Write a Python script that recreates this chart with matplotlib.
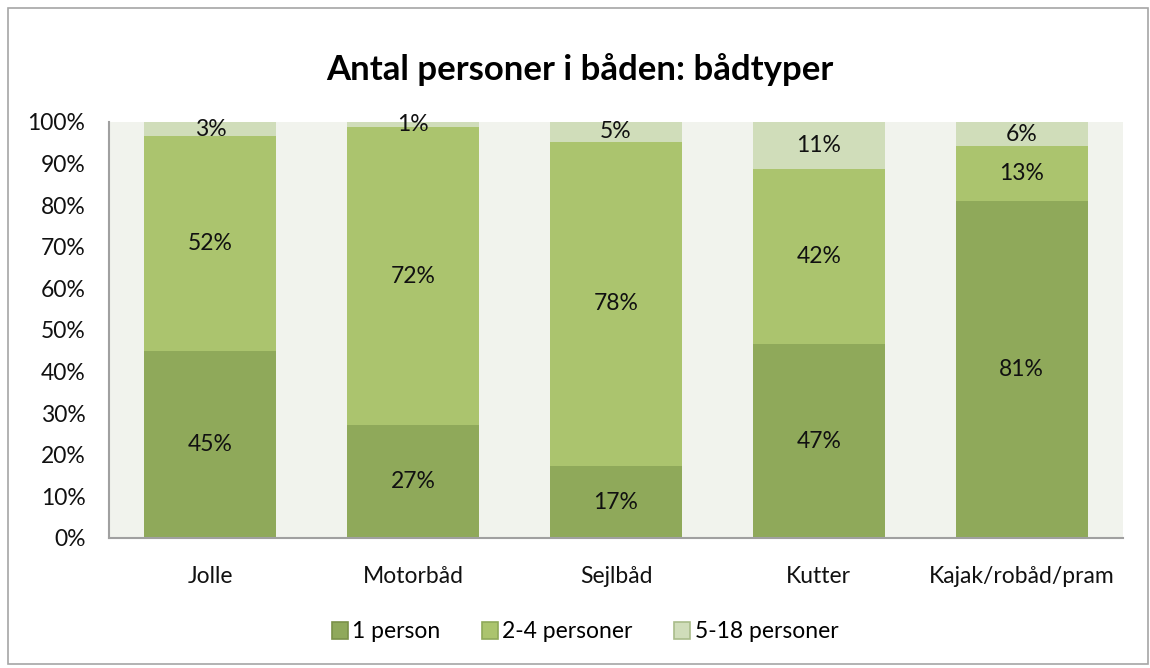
import matplotlib
matplotlib.use("Agg")
import matplotlib.pyplot as plt
from matplotlib.patches import Rectangle
import numpy as np

categories = ["Jolle", "Motorbåd", "Sejlbåd", "Kutter", "Kajak/robåd/pram"]
series_names = ["1 person", "2-4 personer", "5-18 personer"]
one_person = [45.0, 27.2, 17.3, 46.6, 81.0]
two_four = [51.6, 71.5, 77.9, 42.1, 13.2]
five_18 = [3.4, 1.3, 4.8, 11.3, 5.8]

colors = ["#8FA95A", "#ABC46E", "#D0DDBA"]
edges = ["#7A9148", "#8FA95A", "#A9BC8A"]

plt.rcParams["font.family"] = ["Lato", "DejaVu Sans"]

fig = plt.figure(figsize=(11.5, 6.68), dpi=100)
ax = fig.add_axes([109 / 1150, 1 - 538 / 668, (1123 - 109) / 1150, (538 - 122) / 668])
ax.set_facecolor("#F1F3ED")

x = np.arange(len(categories))
bottom = np.zeros(len(categories))
for vals, col, name in zip([one_person, two_four, five_18], colors, series_names):
    vals = np.array(vals)
    ax.bar(x, vals, 0.65, bottom=bottom, color=col, label=name, zorder=2)
    for xi, b, v in zip(x, bottom, vals):
        ax.text(xi, b + v / 2, "%d%%" % round(v), ha="center", va="center",
                fontsize=16.5, color="#111111", zorder=3)
    bottom += vals

ax.set_xlim(-0.5, len(categories) - 0.5)
ax.set_ylim(0, 100)
ax.set_yticks(range(0, 101, 10))
ax.set_yticklabels(["%d%%" % v for v in range(0, 101, 10)], fontsize=16.5)
ax.set_xticks(x)
ax.set_xticklabels(categories, fontsize=16.5)
ax.tick_params(axis="y", length=0, pad=17, colors="#111111")
ax.tick_params(axis="x", length=0, pad=20, colors="#111111")
for s in ["top", "right"]:
    ax.spines[s].set_visible(False)
for s in ["left", "bottom"]:
    ax.spines[s].set_color("#A0A0A0")
    ax.spines[s].set_linewidth(1.5)

fig.text(580 / 1150, 1 - 70 / 668, "Antal personer i båden: bådtyper",
         ha="center", va="center", fontsize=25, fontweight="bold")

handles = [Rectangle((0, 0), 1, 1, facecolor=c, edgecolor=e, linewidth=1.2)
           for c, e in zip(colors, edges)]
fig.legend(handles, series_names, loc="center", bbox_to_anchor=(585 / 1150, 1 - 632 / 668),
           ncol=3, frameon=False, fontsize=16.5, handlelength=0.7, handleheight=0.7,
           handletextpad=0.2, columnspacing=1.8)

fig.patches.append(Rectangle((8 / 1150, 4 / 668), 1140 / 1150, 656 / 668,
                             transform=fig.transFigure, fill=False,
                             edgecolor="#A6A6A6", linewidth=1.2))

fig.savefig("out.png", dpi=100)
